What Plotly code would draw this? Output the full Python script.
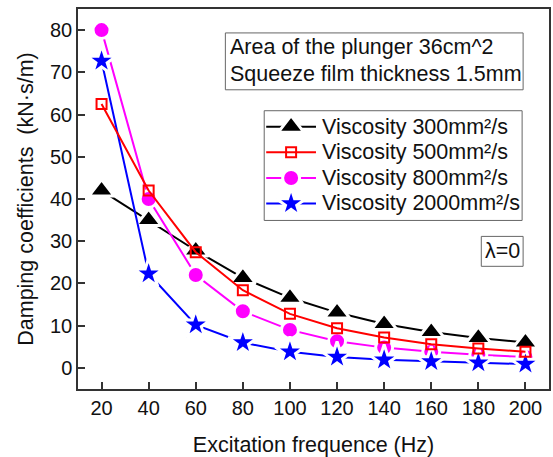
import plotly.graph_objects as go

# Excitation frequency (Hz)
freq = [20, 40, 60, 80, 100, 120, 140, 160, 180, 200]

# Damping coefficients (kN·s/m) for each oil viscosity
visc_300 = [42.0, 35.0, 27.8, 21.3, 16.6, 13.1, 10.4, 8.5, 7.1, 6.0]
visc_500 = [62.5, 42.0, 27.4, 18.4, 12.8, 9.4, 7.2, 5.6, 4.6, 3.8]
visc_800 = [80.0, 40.0, 22.0, 13.4, 9.0, 6.3, 4.8, 3.8, 3.1, 2.6]
visc_2000 = [72.7, 22.3, 10.2, 6.0, 3.8, 2.6, 1.9, 1.5, 1.2, 0.9]

x_ticks = [20, 40, 60, 80, 100, 120, 140, 160, 180, 200]
y_ticks = [0, 10, 20, 30, 40, 50, 60, 70, 80]

legend_names = ["Viscosity 300mm²/s", "Viscosity 500mm²/s",
                "Viscosity 800mm²/s", "Viscosity 2000mm²/s"]
info_lines = ["Area of the plunger 36cm^2", "Squeeze film thickness 1.5mm"]
lambda_label = "λ=0"

FONT = "Liberation Sans, Arial, sans-serif"
TXT = "#111111"
BOX = "#666666"
HALO = 3  # white outline width that opens a small gap in the line around filled symbols

W, H = 553, 457
M_L, M_R, M_T, M_B = 78, 2, 9, 67
PW, PH = W - M_L - M_R, H - M_T - M_B


def px(xpix):
    """Horizontal page pixel -> paper fraction of the plot area."""
    return (xpix - M_L) / PW


def py(ypix):
    """Vertical page pixel (from top) -> paper fraction of the plot area."""
    return (H - M_B - ypix) / PH


styles = {
    # name: (values, colour, symbol, marker size incl. outline)
    legend_names[0]: (visc_300, "#000000", "triangle-up", 22),
    legend_names[1]: (visc_500, "#FF0000", "square-open", 10),
    legend_names[2]: (visc_800, "#FF00FF", "circle", 17),
    legend_names[3]: (visc_2000, "#0000FF", "star", 22),
}
draw_order = [legend_names[0], legend_names[2], legend_names[3], legend_names[1]]


def marker_style(color, symbol, size):
    if symbol.endswith("-open"):
        return dict(symbol=symbol, size=size, color=color,
                    line=dict(color=color, width=2))
    return dict(symbol=symbol, size=size, color=color,
                line=dict(color="white", width=HALO))


fig = go.Figure()
for name in draw_order:
    vals, color, symbol, size = styles[name]
    fig.add_trace(go.Scatter(
        x=freq, y=vals, name=name, mode="lines+markers", showlegend=False,
        line=dict(color=color, width=2),
        marker=marker_style(color, symbol, size),
    ))

axis_common = dict(
    showline=True, linecolor="#333333", linewidth=1.5, mirror=True,
    ticks="inside", ticklen=7, tickwidth=1.5, tickcolor="#333333",
    showgrid=False, zeroline=False,
    tickfont=dict(family=FONT, size=20, color=TXT),
)

fig.update_xaxes(
    range=[10, 210], tickvals=x_ticks,
    title=dict(text="Excitation frequence (Hz)",
               font=dict(family=FONT, size=21.5, color=TXT), standoff=21),
    **axis_common,
)
fig.update_yaxes(
    range=[-5, 85], tickvals=y_ticks,
    title=dict(text="Damping coefficients  (kN·s/m)",
               font=dict(family=FONT, size=21.5, color=TXT), standoff=10),
    **axis_common,
)

# Overlay axes in paper units for the legend samples
fig.update_layout(
    xaxis2=dict(overlaying="x", range=[0, 1], visible=False),
    yaxis2=dict(overlaying="y", range=[0, 1], visible=False),
)

shapes = []
annotations = []

# Info box with two text lines
shapes.append(dict(type="rect", xref="paper", yref="paper",
                   x0=px(226), x1=px(525), y0=py(90), y1=py(33),
                   line=dict(color=BOX, width=1), fillcolor="rgba(0,0,0,0)"))
for text, yc in zip(info_lines, [47.5, 74.5]):
    annotations.append(dict(xref="paper", yref="paper", x=px(229), y=py(yc),
                            xanchor="left", yanchor="middle", text=text,
                            showarrow=False,
                            font=dict(family=FONT, size=21.5, color=TXT)))

# Legend box
shapes.append(dict(type="rect", xref="paper", yref="paper",
                   x0=px(265), x1=px(524), y0=py(221), y1=py(111),
                   line=dict(color=BOX, width=1), fillcolor="rgba(0,0,0,0)"))
legend_rows = [127, 152.7, 178.5, 204]
for name, yc in zip(legend_names, legend_rows):
    vals, color, symbol, size = styles[name]
    fig.add_trace(go.Scatter(
        x=[px(267), px(317)], y=[py(yc), py(yc)], mode="lines",
        xaxis="x2", yaxis="y2", showlegend=False, hoverinfo="skip",
        line=dict(color=color, width=2),
    ))
    fig.add_trace(go.Scatter(
        x=[px(292)], y=[py(yc)], mode="markers",
        xaxis="x2", yaxis="y2", showlegend=False, hoverinfo="skip",
        marker=marker_style(color, symbol, size),
    ))
    annotations.append(dict(xref="paper", yref="paper", x=px(321), y=py(yc),
                            xanchor="left", yanchor="middle", text=name,
                            showarrow=False,
                            font=dict(family=FONT, size=21.5, color=TXT)))

# Lambda box
shapes.append(dict(type="rect", xref="paper", yref="paper",
                   x0=px(483), x1=px(525), y0=py(267), y1=py(237),
                   line=dict(color=BOX, width=1), fillcolor="rgba(0,0,0,0)"))
annotations.append(dict(xref="paper", yref="paper", x=px(504), y=py(252),
                        xanchor="center", yanchor="middle", text=lambda_label,
                        showarrow=False,
                        font=dict(family=FONT, size=21.5, color=TXT)))

fig.update_layout(
    width=W, height=H,
    margin=dict(l=M_L, r=M_R, t=M_T, b=M_B),
    paper_bgcolor="white", plot_bgcolor="white",
    showlegend=False,
    shapes=shapes, annotations=annotations,
)

fig.write_html("out.html")
